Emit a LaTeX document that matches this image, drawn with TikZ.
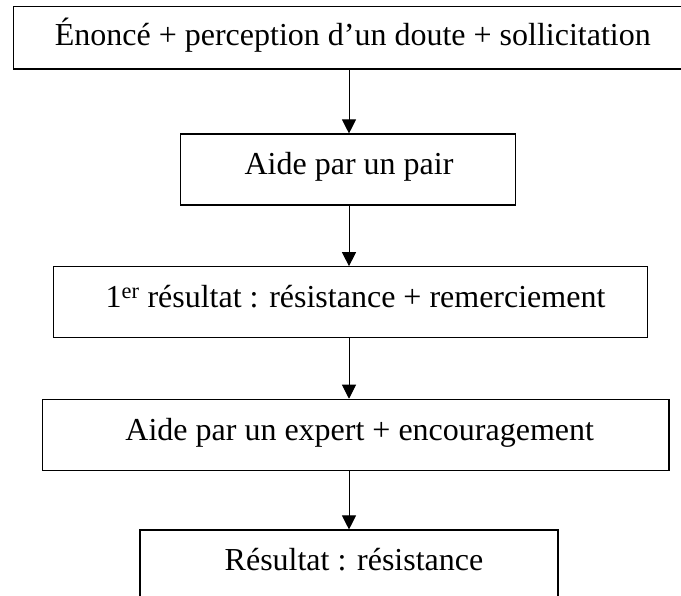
\documentclass[tikz,border=0pt]{standalone}
\usepackage{fontspec}
\setmainfont{Liberation Serif}
\usetikzlibrary{arrows.meta}
\begin{document}
\begin{tikzpicture}[x=1pt,y=-1pt,
  box/.style={draw, line width=1.1pt, inner sep=0pt},
  lbl/.style={anchor=base, inner sep=0pt, font=\fontsize{32}{38}\selectfont},
  arr/.style={line width=1pt, -{Triangle[width=14pt,length=14pt]}}]
\useasboundingbox (0,0) rectangle (681,596);
\node[box, minimum width=671.7pt, minimum height=62.3pt] (b1) at (349.15,37.85) {};
\node[box, minimum width=335pt, minimum height=71pt] (b2) at (348.2,169.5) {};
\node[box, minimum width=594pt, minimum height=71pt] (b3) at (350.3,302.2) {};
\node[box, minimum width=626.7pt, minimum height=71.4pt] (b4) at (355.65,435) {};
\node[box, minimum width=418pt, minimum height=90pt] (b5) at (349,575) {};
\node[lbl] (t1) at (352.8,45.7) {Énoncé + perception d’un doute + sollicitation};
\node[lbl] (t2) at (349,175) {Aide par un pair};
\node[lbl] (t3) at (355.5,307.3) {1\textsuperscript{er} résultat : résistance + remerciement};
\node[lbl] (t4) at (359.7,440) {Aide par un expert + encouragement};
\node[lbl] (t5) at (354,570.7) {Résultat : résistance};
\coordinate (ax) at (349,0);
\draw[arr] (b1.south -| ax) -- (b2.north -| ax);
\draw[arr] (b2.south -| ax) -- (b3.north -| ax);
\draw[arr] (b3.south -| ax) -- (b4.north -| ax);
\draw[arr] (b4.south -| ax) -- (b5.north -| ax);
\end{tikzpicture}
\end{document}
